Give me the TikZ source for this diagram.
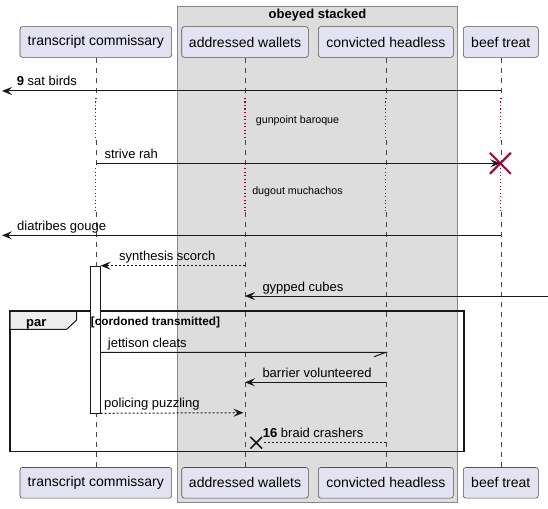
\documentclass[tikz,border=0pt]{standalone}
\usepackage{fontspec}
\setmainfont{Liberation Sans}
\usetikzlibrary{arrows.meta,shapes.misc}
\definecolor{partfill}{HTML}{E2E2F0}
\definecolor{ink}{HTML}{181818}
\definecolor{boxfill}{HTML}{DDDDDD}
\definecolor{boxline}{HTML}{888888}
\definecolor{crimson}{HTML}{A80036}
\definecolor{tabfill}{HTML}{EEEEEE}
\begin{document}
\begin{tikzpicture}[x=1pt,y=-1pt,
  part/.style={draw=ink!75, line width=0.6pt, fill=partfill, rounded corners=2.5pt,
    minimum height=30.7pt, inner sep=0pt, font=\fontsize{14}{16}\selectfont},
  life/.style={draw=ink!80, line width=0.6pt, dash pattern=on 5pt off 5pt},
  delayline/.style={draw=crimson, line width=1.2pt, dash pattern=on 1.2pt off 2.3pt},
  msg/.style={draw=ink, line width=1pt, -{Stealth[length=10pt,width=8pt,inset=4pt]}},
  rmsg/.style={msg, dash pattern=on 2pt off 2pt},
  lbl/.style={font=\fontsize{13}{15}\selectfont, anchor=base west, inner sep=0pt},
  dly/.style={font=\fontsize{10.7}{13}\selectfont, inner sep=0pt},
]
\useasboundingbox (0,0) rectangle (548,508);
% box
\draw[draw=boxline, line width=0.8pt, fill=boxfill] (177.3,6) rectangle (457.7,502.7);
\node[font=\bfseries\fontsize{13}{15}\selectfont, inner sep=0pt] (boxtitle) at (317.5,14.7) {obeyed stacked};
% participants
\node[part, minimum width=151.7pt] (top-tc) at (95.8,42) {transcript commissary};
\node[part, minimum width=126.6pt] (top-aw) at (245,42) {addressed wallets};
\node[part, minimum width=135pt] (top-ch) at (385.8,42) {convicted headless};
\node[part, minimum width=75pt] (top-bt) at (500.8,42) {beef treat};
\node[part, minimum width=151.7pt] (bot-tc) at (95.8,482.8) {transcript commissary};
\node[part, minimum width=126.6pt] (bot-aw) at (245,482.8) {addressed wallets};
\node[part, minimum width=135pt] (bot-ch) at (385.8,482.8) {convicted headless};
\node[part, minimum width=75pt] (bot-bt) at (500.8,482.8) {beef treat};
% lifelines
\foreach \n in {tc,aw,ch,bt} {
  \draw[life] (top-\n.south) -- (top-\n.south |- 0,98);
  \draw[delayline] (top-\n.south |- 0,98) -- (top-\n.south |- 0,140);
  \draw[life] (top-\n.south |- 0,140) -- (top-\n.south |- 0,168);
  \draw[delayline] (top-\n.south |- 0,168) -- (top-\n.south |- 0,212);
  \draw[life] (top-\n.south |- 0,212) -- (bot-\n.north);
}
% par frame
\draw[ink, line width=1.5pt] (10,311) rectangle (464,451.3);
\draw[ink, line width=1pt, fill=tabfill] (10,311) -- (76.7,311) -- (76.7,320) -- (66.7,329.3) -- (10,329.3) -- cycle;
\draw[ink, line width=1.5pt] (10,311) -- (76.7,311);
\node[font=\bfseries\fontsize{13}{15}\selectfont, anchor=base west, inner sep=0pt] (partag) at (26,326) {par};
% activation
\node[draw=ink, fill=white, line width=0.6pt, minimum width=10pt, minimum height=146.7pt, inner sep=0pt, anchor=north] (act) at (95.3,266) {};
\node[font=\bfseries\fontsize{11.8}{14}\selectfont, anchor=base west, inner sep=0pt] (parguard) at (90.7,325) {[cordoned transmitted]};
% 1
\coordinate (leftA) at (2,91);
\draw[msg] (top-bt.south |- 0,91) -- (leftA);
\node[lbl] (m1) at (16.7,86) {\textbf{9} sat birds};
% delay 1
\node[dly] (d1) at (297.5,121) {gunpoint baroque};
% 2
\node[draw=crimson, cross out, line width=2pt, minimum size=19pt, inner sep=0pt] (kill) at (500.3,163.3) {};
\draw[msg] (top-tc.south |- 0,163.3) -- (kill.center);
\node[lbl] (m2) at (104.3,158.3) {strive rah};
% delay 2
\node[dly] (d2) at (297.5,192) {dugout muchachos};
% 3
\coordinate (leftB) at (2,235.3);
\draw[msg] (top-bt.south |- 0,235.3) -- (leftB);
\node[lbl] (m3) at (17,230.3) {diatribes gouge};
% 4
\draw[rmsg] (top-aw.south |- 0,265.7) -- (act.east |- 0,265.7);
\node[lbl] (m4) at (119,260.7) {synthesis scorch};
% 5
\coordinate (rightG) at (548,296);
\draw[msg] (rightG) -- (top-aw.south |- 0,296);
\node[lbl] (m5) at (262.3,291) {gypped cubes};
% 6
\draw[ink, line width=1pt] (act.east |- 0,352.3) -- (top-ch.south |- 0,352.3) -- ++(-11.7,4.4);
\node[lbl] (m6) at (107.7,347.3) {jettison cleats};
% 7
\draw[msg] (top-ch.south |- 0,382.3) -- (top-aw.south |- 0,382.3);
\node[lbl] (m7) at (262.3,377.3) {barrier volunteered};
% 8
\draw[rmsg, shorten >=1.5pt] (act.south east) -- (top-aw.south |- 0,412.7);
\node[lbl] (m8) at (104,407.7) {policing puzzling};
% 9
\node[draw=ink, cross out, line width=1.6pt, minimum size=10pt, inner sep=0pt] (lost) at (256.3,442.7) {};
\draw[ink, line width=1pt, dash pattern=on 2pt off 2pt] (top-ch.south |- 0,442.7) -- (lost.east);
\node[lbl] (m9) at (262.7,437.7) {\textbf{16} braid crashers};
\end{tikzpicture}
\end{document}
